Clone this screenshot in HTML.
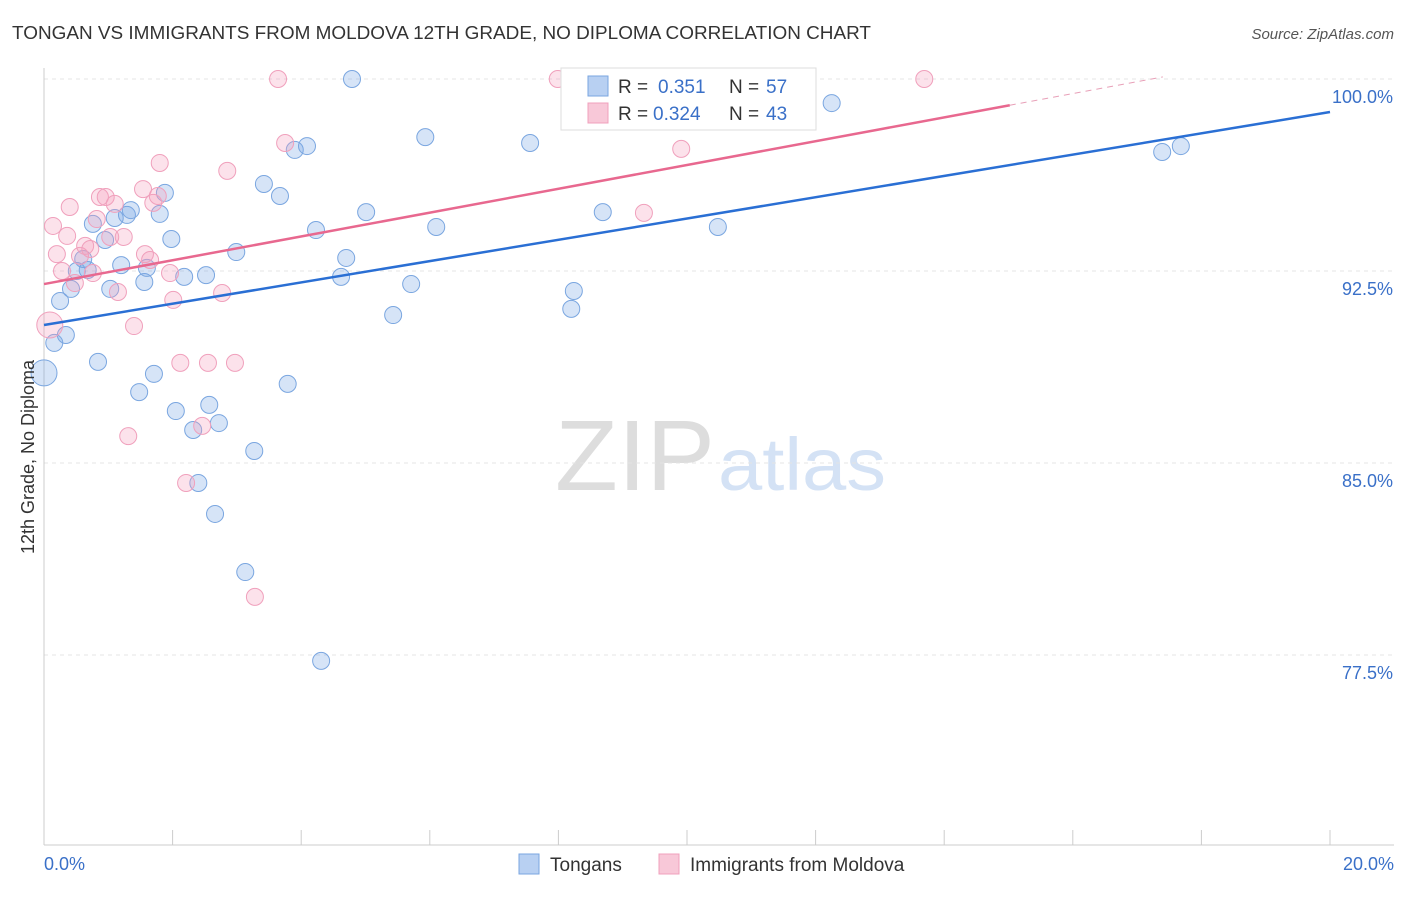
<!DOCTYPE html>
<html><head><meta charset="utf-8"><style>
body{margin:0;background:#fff;font-family:"Liberation Sans",sans-serif;}
svg text{font-family:"Liberation Sans",sans-serif;}
</style></head><body>
<svg width="1406" height="892" viewBox="0 0 1406 892">
<text x="12" y="39" font-size="18" fill="#333" textLength="859" lengthAdjust="spacingAndGlyphs">TONGAN VS IMMIGRANTS FROM MOLDOVA 12TH GRADE, NO DIPLOMA CORRELATION CHART</text>
<text x="1394" y="39" font-size="15" fill="#555" font-style="italic" text-anchor="end">Source: ZipAtlas.com</text>
<g>
<text x="555" y="490" font-size="100" fill="#ddd" font-family="Liberation Serif" textLength="160" lengthAdjust="spacingAndGlyphs">ZIP</text>
<text x="718" y="490" font-size="74" fill="#d4e2f5" textLength="168" lengthAdjust="spacingAndGlyphs">atlas</text>
</g>
<g id="grid"></g><g id="axes"></g><g id="marks"></g>
<text transform="translate(34,457) rotate(-90)" font-size="18" fill="#333" text-anchor="middle">12th Grade, No Diploma</text>
<text x="44" y="870" font-size="18" fill="#3a70c8">0.0%</text>
<text x="1394" y="870" font-size="18" fill="#3a70c8" text-anchor="end">20.0%</text>
<g>
<rect x="561" y="68" width="255" height="62" fill="#fff" stroke="#ddd"/>
<rect x="588" y="76" width="20" height="20" fill="#b8d0f2" stroke="#7aa6e0"/>
<text x="618" y="93" font-size="19" fill="#333">R =</text>
<text x="658" y="93" font-size="19" fill="#3a70c8">0.351</text>
<text x="729" y="93" font-size="19" fill="#333">N =</text>
<text x="766" y="93" font-size="19" fill="#3a70c8">57</text>
<rect x="588" y="103" width="20" height="20" fill="#f8c8d8" stroke="#f0a0bc"/>
<text x="618" y="120" font-size="19" fill="#333">R =</text>
<text x="653" y="120" font-size="19" fill="#3a70c8">0.324</text>
<text x="729" y="120" font-size="19" fill="#333">N =</text>
<text x="766" y="120" font-size="19" fill="#3a70c8">43</text>
</g>
<g>
<rect x="519" y="854" width="20" height="20" fill="#b8d0f2" stroke="#7aa6e0"/>
<text x="550" y="871" font-size="19" fill="#333">Tongans</text>
<rect x="659" y="854" width="20" height="20" fill="#f8c8d8" stroke="#f0a0bc"/>
<text x="690" y="871" font-size="19" fill="#333">Immigrants from Moldova</text>
</g>
</svg>
<script>
const yTicks=[100,92.5,85,77.5];
const yTickLabels=["100.0%","92.5%","85.0%","77.5%"];
const xTicks=[0,2,4,6,8,10,12,14,16,18,20];
const blueX=[0.0,0.16,0.25,0.34,0.42,0.51,0.61,0.68,0.76,0.84,0.95,1.03,1.10,1.20,1.29,1.35,1.48,1.56,1.60,1.71,1.80,1.88,1.98,2.05,2.18,2.32,2.40,2.52,2.57,2.66,2.72,2.99,3.13,3.27,3.42,3.67,3.79,3.90,4.09,4.23,4.31,4.62,4.70,4.79,5.01,5.43,5.71,5.93,6.10,7.56,8.20,8.24,8.69,10.48,12.25,17.39,17.68];
const blueY=[88.52,89.69,91.33,90.0,91.8,92.5,92.97,92.54,94.34,88.95,93.71,91.8,94.57,92.73,94.69,94.88,87.77,92.07,92.62,88.48,94.73,95.55,93.75,87.03,92.27,86.29,84.22,92.34,87.27,83.01,86.56,93.24,80.74,85.47,95.9,95.43,88.09,97.23,97.38,94.1,77.27,92.27,93.01,100,94.8,90.78,91.99,97.73,94.22,97.5,91.02,91.72,94.8,94.22,99.06,97.15,97.38];
const pinkX=[0.09,0.14,0.20,0.28,0.36,0.40,0.48,0.56,0.64,0.72,0.76,0.82,0.87,0.96,1.03,1.10,1.15,1.24,1.31,1.40,1.54,1.57,1.65,1.70,1.77,1.80,1.96,2.01,2.12,2.21,2.46,2.55,2.77,2.85,2.97,3.28,3.64,3.75,7.99,9.33,9.91,13.69];
const pinkY=[90.39,94.26,93.16,92.5,93.87,95.0,92.03,93.09,93.48,93.36,92.42,94.53,95.39,95.39,93.83,95.12,91.68,93.83,86.05,90.35,95.7,93.16,92.93,95.16,95.43,96.72,92.42,91.37,88.91,84.22,86.45,88.91,91.64,96.41,88.91,79.77,100,97.5,100,94.77,97.27,100];
const blueTrend=[90.39,98.71];
const pinkTrend=[91.99,0.465];
const NS="http://www.w3.org/2000/svg";
const sx=v=>44+v*64.3, sy=v=>79+(100-v)*25.6;
function mk(tag,attrs,parent){const e=document.createElementNS(NS,tag);for(const k in attrs)e.setAttribute(k,attrs[k]);parent.appendChild(e);return e;}
const grid=document.getElementById('grid'),axes=document.getElementById('axes'),marks=document.getElementById('marks');
yTicks.forEach((t,i)=>{
 const l=mk('line',{x1:44,x2:1394,y1:sy(t),y2:sy(t),stroke:'#e4e4e4','stroke-dasharray':'4,4'},grid);
 
 
 const tx=mk('text',{x:1393,y:sy(t)+24,'font-size':18,fill:'#3a70c8','text-anchor':'end'},grid);
 tx.textContent=yTickLabels[i];
 
 
});
const ax=mk('line',{x1:44,x2:44,y1:68,y2:845,stroke:'#ccc'},axes);


const bx=mk('line',{x1:44,x2:1394,y1:845,y2:845,stroke:'#ccc'},axes);


xTicks.forEach(t=>{
 const l=mk('line',{x1:sx(t),x2:sx(t),y1:830,y2:845,stroke:'#ccc'},axes);
 
 
});
function dots(X,Y,fill,stroke,name){
 X.forEach((x,i)=>{
  const r=(x<0.1)?13:8.5;
  const c=mk('circle',{cx:sx(x),cy:sy(Y[i]),r:r,fill:fill,stroke:stroke,'stroke-width':1},marks);
  
  
 });
}
dots(blueX,blueY,'rgba(120,165,230,0.3)','#7aa6e0','tongan-point');
dots(pinkX,pinkY,'rgba(245,160,190,0.3)','#f0a0bc','moldova-point');
const bl=mk('line',{x1:sx(0),y1:sy(blueTrend[0]),x2:sx(20),y2:sy(blueTrend[1]),stroke:'#2a6fd4','stroke-width':2.5},marks);


const pEnd=15.02, pDash=17.4;
const pl=mk('line',{x1:sx(0),y1:sy(pinkTrend[0]),x2:sx(pEnd),y2:sy(pinkTrend[0]+pinkTrend[1]*pEnd),stroke:'#e8688f','stroke-width':2.5},marks);


const pd=mk('line',{x1:sx(pEnd),y1:sy(pinkTrend[0]+pinkTrend[1]*pEnd),x2:sx(pDash),y2:sy(pinkTrend[0]+pinkTrend[1]*pDash),stroke:'#e8a0b8','stroke-width':1,'stroke-dasharray':'6,5'},marks);


</script>
</body></html>
